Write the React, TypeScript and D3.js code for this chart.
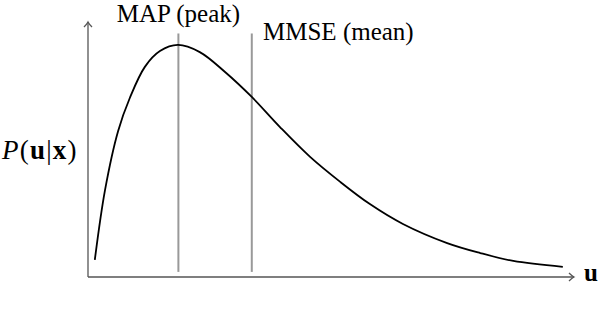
import * as d3 from 'd3';

// curve samples (u in arbitrary units, density normalised)
const uValues = [0.14, 0.35, 0.62, 0.86, 1.17, 1.48, 1.85, 2.3, 2.82, 3.37, 3.95, 4.57, 5.19, 5.8, 6.48, 7.39, 8.07, 8.75, 9.77];
const pValues = [0.067, 0.341, 0.573, 0.702, 0.824, 0.886, 0.91, 0.882, 0.804, 0.706, 0.588, 0.471, 0.373, 0.286, 0.208, 0.133, 0.094, 0.063, 0.04];

const markers = ['MAP (peak)', 'MMSE (mean)'];
const markerU = [1.86, 3.37];

const width = 602;
const height = 318;
const MARGIN = { top: 22, right: 28, bottom: 41, left: 88 };

export default function App() {
  const xScale = d3.scaleLinear().domain([0, 10]).range([MARGIN.left, width - MARGIN.right]);
  const yScale = d3.scaleLinear().domain([0, 1]).range([height - MARGIN.bottom, MARGIN.top]);

  const line = d3
    .line<number>()
    .x((_, i) => xScale(uValues[i]))
    .y((d) => yScale(d))
    .curve(d3.curveCatmullRom.alpha(0.5));

  const x0 = xScale(0);
  const y0 = yScale(0);
  const xEnd = xScale(10);
  const yEnd = yScale(1);
  const font = '"Times New Roman", Times, "Liberation Serif", "Noto Serif", "DejaVu Serif", serif';

  return (
    <svg width={width} height={height} style={{ position: 'absolute', left: 0, top: 0 }}>
      {/* axes */}
      <g stroke="#555" strokeWidth={1.3} fill="none">
        <line x1={x0} y1={y0} x2={xEnd} y2={y0} />
        <line x1={x0} y1={y0} x2={x0} y2={yEnd} />
        <path d={`M${xEnd - 5},${y0 - 4} Q${xEnd - 2},${y0 - 1} ${xEnd},${y0} Q${xEnd - 2},${y0 + 1} ${xEnd - 5},${y0 + 4}`} />
        <path d={`M${x0 - 4},${yEnd + 5} Q${x0 - 1},${yEnd + 2} ${x0},${yEnd} Q${x0 + 1},${yEnd + 2} ${x0 + 4},${yEnd + 5}`} />
      </g>

      {/* estimator lines */}
      {markerU.map((u) => (
        <line key={u} x1={xScale(u)} x2={xScale(u)} y1={yScale(0.02)} y2={yScale(0.955)} stroke="#999" strokeWidth={2} />
      ))}

      <path d={line(pValues) ?? ''} fill="none" stroke="black" strokeWidth={1.8} />

      <g style={{ fontFamily: font }} fontSize={25} fill="black">
        <text x={xScale(markerU[0])} y={22} textAnchor="middle">{markers[0]}</text>
        <text x={263} y={40}>{markers[1]}</text>

        <text x={2} y={159} fontSize={27} letterSpacing={1.2}>
          <tspan fontStyle="italic">P</tspan>(<tspan fontWeight="bold">u</tspan>|<tspan fontWeight="bold">x</tspan>)
        </text>
        <text x={584} y={281} fontWeight="bold">u</text>
      </g>
    </svg>
  );
}
